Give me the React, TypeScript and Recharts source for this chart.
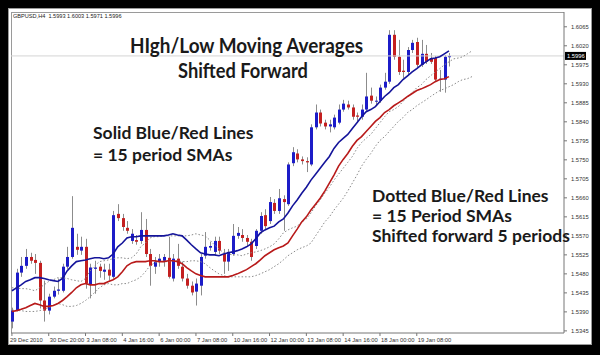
import { Bar, ComposedChart, Line, ReferenceLine, XAxis, YAxis } from "recharts";

// GBPUSD H4 candles, 29 Dec 2010 .. 20 Jan 2011
const openPrices = [
  1.5367, 1.5393, 1.5483, 1.5499, 1.552, 1.5513, 1.5506, 1.5417, 1.5393, 1.5426,
  1.544, 1.544, 1.5497, 1.552, 1.5544, 1.5535, 1.5544, 1.5454, 1.5492, 1.5497,
  1.5485, 1.549, 1.5473, 1.5622, 1.5612, 1.5589, 1.5558, 1.556, 1.5558, 1.5584,
  1.5527, 1.5497, 1.5509, 1.5511, 1.5518, 1.5469, 1.5516, 1.5497, 1.5469, 1.5452,
  1.5438, 1.5452, 1.5523, 1.5542, 1.5532, 1.5558, 1.5527, 1.5509, 1.5527, 1.557,
  1.5572, 1.5565, 1.5556, 1.5546, 1.5582, 1.5619, 1.5605, 1.5648, 1.5629, 1.5657,
  1.5645, 1.5742, 1.5765, 1.5751, 1.5747, 1.5739, 1.5827, 1.5862, 1.5838, 1.5829,
  1.5827, 1.5838, 1.5869, 1.5881, 1.5874, 1.5855, 1.5852, 1.5869, 1.5902, 1.5888,
  1.589, 1.5921, 1.5935, 1.6046, 1.5994, 1.5961, 1.5958, 1.601, 1.6029, 1.5975,
  1.6001, 1.5991, 1.5991, 1.594, 1.594, 1.5993,
];
const highPrices = [
  1.54, 1.5492, 1.552, 1.5539, 1.553, 1.5527, 1.5511, 1.5464, 1.5433, 1.545,
  1.5469, 1.5504, 1.5544, 1.5664, 1.5575, 1.5568, 1.5563, 1.5504, 1.5511, 1.5504,
  1.5504, 1.5504, 1.5629, 1.5645, 1.5622, 1.5605, 1.5586, 1.5572, 1.5626, 1.561,
  1.5539, 1.552, 1.5527, 1.5527, 1.5568, 1.5527, 1.5551, 1.5509, 1.548, 1.5462,
  1.5469, 1.5527, 1.5579, 1.5556, 1.5568, 1.5568, 1.5539, 1.5539, 1.5598, 1.5591,
  1.5586, 1.5572, 1.5563, 1.5586, 1.5626, 1.5633, 1.5662, 1.5657, 1.5681, 1.5666,
  1.5744, 1.578, 1.5775, 1.5758, 1.5756, 1.5834, 1.5881, 1.5869, 1.5845, 1.5845,
  1.5857, 1.5881, 1.5892, 1.589, 1.5881, 1.5862, 1.5881, 1.5956, 1.5921, 1.59,
  1.5928, 1.5956, 1.6057, 1.6057, 1.6034, 1.5987, 1.6017, 1.6034, 1.6039, 1.6034,
  1.6022, 1.6003, 1.5996, 1.5963, 1.5998, 1.6003,
];
const lowPrices = [
  1.5351, 1.5391, 1.5473, 1.5492, 1.5504, 1.548, 1.5398, 1.5367, 1.5384, 1.5422,
  1.5431, 1.5436, 1.5492, 1.5516, 1.5525, 1.5525, 1.5445, 1.5422, 1.5433, 1.5471,
  1.5466, 1.5464, 1.5469, 1.5605, 1.5582, 1.5575, 1.5551, 1.5549, 1.5551, 1.552,
  1.5452, 1.548, 1.5497, 1.5497, 1.5469, 1.5462, 1.5492, 1.5462, 1.5445, 1.5429,
  1.5405, 1.5429, 1.5516, 1.5535, 1.5525, 1.5527, 1.548, 1.5487, 1.5523, 1.5563,
  1.5556, 1.5544, 1.5511, 1.5539, 1.5575, 1.5586, 1.5598, 1.5622, 1.5622, 1.5582,
  1.5641, 1.5735, 1.5744, 1.5739, 1.5721, 1.5735, 1.5822, 1.5829, 1.5822, 1.5815,
  1.5822, 1.5834, 1.5864, 1.5869, 1.5845, 1.5841, 1.5845, 1.5864, 1.5883, 1.5878,
  1.5885, 1.5916, 1.593, 1.5987, 1.5951, 1.5944, 1.5951, 1.6003, 1.597, 1.597,
  1.5977, 1.5977, 1.5935, 1.5911, 1.5909, 1.5971,
];
const closePrices = [
  1.5393, 1.5483, 1.5499, 1.552, 1.5511, 1.5506, 1.5417, 1.5393, 1.5426, 1.544,
  1.5443, 1.5497, 1.552, 1.5589, 1.5537, 1.5544, 1.5457, 1.5495, 1.5495, 1.5487,
  1.549, 1.5476, 1.5619, 1.5612, 1.5591, 1.5582, 1.5575, 1.5556, 1.5584, 1.5527,
  1.5499, 1.5509, 1.5516, 1.552, 1.5473, 1.5516, 1.5499, 1.5469, 1.5452, 1.5436,
  1.5457, 1.552, 1.5544, 1.5546, 1.5558, 1.5535, 1.5509, 1.5532, 1.557, 1.5577,
  1.5565, 1.5556, 1.552, 1.5582, 1.5617, 1.5593, 1.565, 1.5629, 1.5659, 1.565,
  1.5739, 1.5768, 1.5751, 1.5747, 1.5744, 1.5827, 1.5862, 1.5836, 1.5829, 1.5834,
  1.585, 1.5869, 1.5883, 1.5874, 1.5852, 1.5852, 1.5869, 1.59, 1.589, 1.589,
  1.5921, 1.5935, 1.6046, 1.5994, 1.5958, 1.5958, 1.601, 1.6027, 1.5975, 1.6001,
  1.5982, 1.5982, 1.594, 1.5942, 1.5994, 1.5996,
];

// 15 period SMA of highs (blue) and lows (red), as drawn
const smaHigh = [
  1.544, 1.5447, 1.5454, 1.5462, 1.5466, 1.5471, 1.5471, 1.5469, 1.5466, 1.5464,
  1.5462, 1.5469, 1.5487, 1.5499, 1.5509, 1.5511, 1.5513, 1.5516, 1.5518, 1.5518,
  1.5516, 1.5518, 1.5527, 1.5544, 1.5553, 1.5565, 1.5568, 1.5568, 1.557, 1.557,
  1.557, 1.557, 1.557, 1.557, 1.5572, 1.5575, 1.5572, 1.557, 1.556, 1.5549,
  1.5539, 1.553, 1.5527, 1.5525, 1.5525, 1.5523, 1.5527, 1.553, 1.5532, 1.5535,
  1.5539, 1.5544, 1.5551, 1.5563, 1.5577, 1.5584, 1.5589, 1.5593, 1.5603, 1.561,
  1.5624, 1.5641, 1.5655, 1.5671, 1.5685, 1.5702, 1.5716, 1.573, 1.5744, 1.5758,
  1.5777, 1.5791, 1.5801, 1.581, 1.5824, 1.5838, 1.5852, 1.5864, 1.5869, 1.5876,
  1.5888, 1.59, 1.5909, 1.5921, 1.5928, 1.594, 1.5949, 1.5958, 1.5966, 1.5975,
  1.5982, 1.5989, 1.5991, 1.5994, 1.6001, 1.6008,
];
const smaLow = [
  1.5391, 1.5393, 1.5396, 1.54, 1.5405, 1.541, 1.5407, 1.5403, 1.5403, 1.5405,
  1.541, 1.5417, 1.5426, 1.5436, 1.5447, 1.5454, 1.5457, 1.5454, 1.5454, 1.5457,
  1.5457, 1.5462, 1.5466, 1.5473, 1.5485, 1.5499, 1.5506, 1.5509, 1.5509, 1.5509,
  1.5511, 1.5511, 1.5509, 1.5509, 1.5511, 1.5511, 1.5509, 1.5504, 1.5495, 1.5487,
  1.548, 1.5476, 1.5473, 1.5473, 1.5473, 1.5473, 1.5473, 1.5473, 1.5476, 1.548,
  1.5485, 1.549, 1.5497, 1.5504, 1.5513, 1.5523, 1.553, 1.5537, 1.5542, 1.5546,
  1.5553, 1.557, 1.5586, 1.5603, 1.5615, 1.5631, 1.5645, 1.5659, 1.5676, 1.5695,
  1.5714, 1.5735, 1.5751, 1.5765, 1.5782, 1.5796, 1.5805, 1.5817, 1.5829, 1.5841,
  1.585, 1.5862, 1.5869, 1.5878, 1.5885, 1.5892, 1.59, 1.5907, 1.5914, 1.5918,
  1.5923, 1.5928, 1.5935, 1.594, 1.5942, 1.5947,
];
// values of the SMAs just before the first visible bar (shown by the shifted lines)
const smaHighEarlier = [1.5447, 1.5447, 1.5445, 1.5445, 1.5443];
const smaLowEarlier = [1.5396, 1.5393, 1.5393, 1.5391, 1.5391];
const SHIFT = 5;

const xTickIndex = [0, 8, 16, 24, 32, 40, 48, 56, 64, 72, 80, 88];
const xTickLabels = [
  "29 Dec 2010", "30 Dec 20:00", "3 Jan 08:00", "4 Jan 16:00", "6 Jan 00:00", "7 Jan 08:00",
  "10 Jan 16:00", "12 Jan 00:00", "13 Jan 08:00", "14 Jan 16:00", "18 Jan 00:00", "19 Jan 08:00",
];
const yTicks = [
  1.5345, 1.539, 1.5435, 1.548, 1.5525, 1.557, 1.5615, 1.566, 1.5705, 1.575, 1.5795,
  1.584, 1.5885, 1.593, 1.5975, 1.602, 1.6065,
];
const bidPrice = 1.5996;

const rows: any[] = [];
for (let i = 0; i < openPrices.length + SHIFT; i++) {
  const row: any = { i };
  if (i < openPrices.length) {
    row.open = openPrices[i];
    row.high = highPrices[i];
    row.low = lowPrices[i];
    row.close = closePrices[i];
    row.smaHigh = smaHigh[i];
    row.smaLow = smaLow[i];
  }
  row.shiftHigh = i < SHIFT ? smaHighEarlier[i] : smaHigh[i - SHIFT];
  row.shiftLow = i < SHIFT ? smaLowEarlier[i] : smaLow[i - SHIFT];
  rows.push(row);
}

const axisFont = "'Liberation Sans', Arial, sans-serif";

function Candle(props: any) {
  const { x, y, width, height, payload } = props;
  if (!payload || payload.high == null || !height) return null;
  const { open, close, high, low } = payload;
  const k = height / (high - low);
  const cx = Math.round(x + width / 2);
  const top = y + (high - Math.max(open, close)) * k;
  const bottom = y + (high - Math.min(open, close)) * k;
  const up = close >= open;
  return (
    <g>
      <line x1={cx + 0.5} x2={cx + 0.5} y1={y} y2={y + height} stroke="#8c8c8c" strokeWidth={1} />
      <rect
        x={cx - 1}
        y={top}
        width={3}
        height={Math.max(1, bottom - top)}
        fill={up ? "#1c1cc8" : "#c42020"}
      />
    </g>
  );
}

function XTick(props: any) {
  const { x, y, payload } = props;
  const label = xTickLabels[xTickIndex.indexOf(payload.value)];
  return (
    <text x={payload.value === 0 ? x - 2 : x + 1} y={y + 4} fontSize={5.8} fill="#333" fontFamily={axisFont}>
      {label}
    </text>
  );
}

function YTick(props: any) {
  const { x, y, payload } = props;
  return (
    <text x={x + 2} y={y + 2} fontSize={5.8} fill="#333" fontFamily={axisFont}>
      {payload.value.toFixed(4)}
    </text>
  );
}

function BidLabel(props: any) {
  const { viewBox } = props;
  if (!viewBox) return null;
  const x = viewBox.x + viewBox.width;
  const y = viewBox.y;
  return (
    <g>
      <rect x={x + 1} y={y - 4} width={21} height={8} fill="#000" />
      <text x={x + 3} y={y + 2} fontSize={5.8} fill="#fff" fontFamily={axisFont}>
        {bidPrice.toFixed(4)}
      </text>
    </g>
  );
}

const noteStyle: any = {
  position: "absolute",
  fontFamily: "Lato, sans-serif",
  fontWeight: 700,
  color: "#1a1a1a",
  whiteSpace: "nowrap",
  lineHeight: 1,
  transformOrigin: "left top",
};

export default function App() {
  return (
    <div style={{ position: "absolute", left: 0, top: 0, width: 600, height: 355, background: "#000" }}>
      <div
        style={{
          position: "absolute",
          left: 8,
          top: 8,
          width: 584,
          height: 337,
          background: "#fff",
          border: "1px solid #9a9a9a",
          boxSizing: "border-box",
        }}
      />
      <div
        style={{
          position: "absolute",
          left: 11,
          top: 12,
          width: 553,
          height: 321,
          border: "1px solid #9a9a9a",
          borderRight: "none",
          borderBottom: "none",
          boxSizing: "border-box",
        }}
      />
      <div style={{ position: "absolute", left: 0, top: 0 }}>
        <ComposedChart width={600} height={355} data={rows} margin={{ top: 12, right: 6, bottom: 6, left: 11 }}>
          <XAxis
            dataKey="i"
            type="number"
            domain={[-0.2, 120]}
            allowDataOverflow
            ticks={xTickIndex}
            interval={0}
            tick={<XTick />}
            tickSize={3}
            height={16}
            stroke="#777"
          />
          <YAxis
            orientation="right"
            type="number"
            domain={[1.534, 1.61]}
            allowDataOverflow
            ticks={yTicks}
            interval={0}
            tick={<YTick />}
            tickSize={3}
            width={30}
            stroke="#777"
          />
          <ReferenceLine y={bidPrice} stroke="#d4d4d4" label={<BidLabel />} />
          <Line
            dataKey="shiftHigh"
            stroke="#8a8a8a"
            strokeWidth={1}
            strokeDasharray="1.5 2"
            dot={false}
            isAnimationActive={false}
          />
          <Line
            dataKey="shiftLow"
            stroke="#8a8a8a"
            strokeWidth={1}
            strokeDasharray="1.5 2"
            dot={false}
            isAnimationActive={false}
          />
          <Bar
            dataKey={(d: any) => (d.high == null ? null : [d.low, d.high])}
            barSize={3}
            shape={<Candle />}
            isAnimationActive={false}
          />
          <Line dataKey="smaHigh" stroke="#14149a" strokeWidth={1.6} dot={false} isAnimationActive={false} />
          <Line dataKey="smaLow" stroke="#b81a1a" strokeWidth={1.6} dot={false} isAnimationActive={false} />
        </ComposedChart>
      </div>
      <div style={{ position: "absolute", left: 13, top: 14, fontSize: 5.6, lineHeight: 1, fontFamily: axisFont, color: "#222" }}>
        GBPUSD,H4&nbsp;&nbsp;1.5993 1.6003 1.5971 1.5996
      </div>
      <div style={{ ...noteStyle, left: 130, top: 34, fontSize: 21, transform: "scaleX(0.9)" }}>
        HIgh/Low Moving Averages
      </div>
      <div style={{ ...noteStyle, left: 178, top: 59, fontSize: 21, transform: "scaleX(0.87)" }}>Shifted Forward</div>
      <div style={{ ...noteStyle, left: 93, top: 124, fontSize: 17.5 }}>Solid Blue/Red Lines</div>
      <div style={{ ...noteStyle, left: 93, top: 146, fontSize: 17.5 }}>= 15 period SMAs</div>
      <div style={{ ...noteStyle, left: 372, top: 187, fontSize: 17.5 }}>Dotted Blue/Red Lines</div>
      <div style={{ ...noteStyle, left: 372, top: 207, fontSize: 17.5 }}>= 15 Period SMAs</div>
      <div style={{ ...noteStyle, left: 372, top: 227, fontSize: 17.5 }}>Shifted forward 5 periods</div>
    </div>
  );
}
